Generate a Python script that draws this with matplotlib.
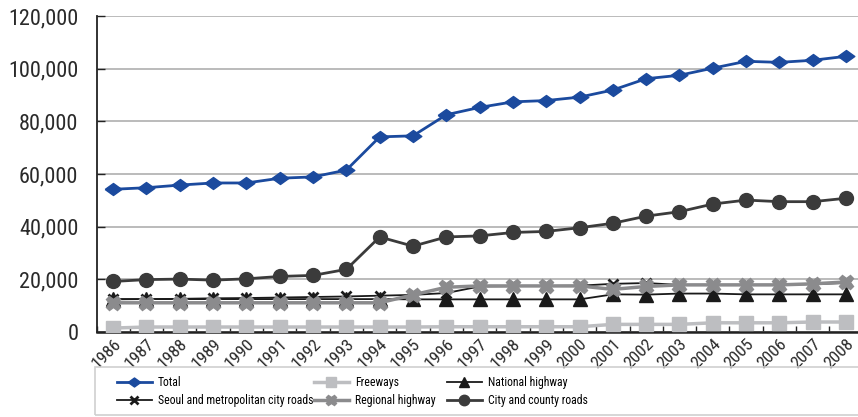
import numpy as np
import matplotlib.pyplot as plt
from matplotlib import font_manager
from matplotlib.patches import Rectangle

# prefer a narrow face when one is available
narrow = 'DejaVu Sans'
for name in ['Liberation Sans Narrow', 'DejaVu Sans Condensed', 'Roboto Condensed', 'Roboto']:
    try:
        font_manager.findfont(font_manager.FontProperties(family=name), fallback_to_default=False)
        narrow = name
        break
    except ValueError:
        continue
plt.rcParams['font.family'] = [narrow, 'DejaVu Sans']

years = [str(y) for y in range(1986, 2009)]

total = [54200, 54800, 55800, 56600, 56600, 58400, 58900, 61500, 74100, 74500, 82500, 85300,
         87400, 87900, 89200, 91900, 96200, 97500, 100200, 102800, 102400, 103200, 104700]
freeways = [1500, 1900, 1900, 1900, 1900, 1900, 1900, 1900, 1900, 1900, 2000, 2000,
            2000, 2000, 2000, 2900, 2900, 2900, 3500, 3500, 3500, 3800, 3800]
national = [12500, 12500, 12500, 12500, 12500, 12500, 12500, 12500, 12500, 12400, 12400, 12400,
            12400, 12400, 12400, 14300, 14200, 14600, 14600, 14300, 14300, 14300, 14300]
seoul = [12400, 12500, 12600, 12800, 12900, 13100, 13300, 13500, 13800, 14100, 14800, 17300,
         17400, 17500, 17600, 18300, 18600, 17900, 17900, 17900, 17900, 18200, 18600]
regional = [11100, 11100, 11100, 11100, 11100, 11100, 11100, 11100, 11100, 14100, 17000, 17500,
            17500, 17500, 17500, 16200, 17300, 17900, 17900, 17900, 17900, 18300, 19000]
city = [19200, 19900, 20100, 19700, 20200, 21100, 21500, 23800, 36100, 32600, 36100, 36500,
        37800, 38200, 39600, 41300, 44000, 45700, 48600, 50100, 49500, 49500, 50800]

x = np.arange(len(years))

fig = plt.figure(figsize=(8.58, 4.17), dpi=100)
ax = fig.add_axes([0.1125, 0.2038, 0.893, 0.7578])

# wide diamond for the total series
wide_diamond = [(-1, 0), (0, 0.72), (1, 0), (0, -0.72), (-1, 0)]

l_total, = ax.plot(x, total, color='#1b4a9e', lw=2, marker=wide_diamond, ms=12, zorder=7)
l_free, = ax.plot(x, freeways, color='#bdbec1', lw=2.5, marker='s', ms=10, zorder=3)
l_nat, = ax.plot(x, national, color='#1a1a1a', lw=1.3, marker='^', ms=9.5, zorder=4)
l_seoul, = ax.plot(x, seoul, color='#1a1a1a', lw=1.3, marker='x', ms=7.5, mew=2, zorder=5)
l_reg, = ax.plot(x, regional, color='#8b8b8d', lw=2.5, marker='X', ms=10.5, zorder=6)
l_city, = ax.plot(x, city, color='#3b3b3b', lw=2, marker='o', ms=10, zorder=6)

ax.set_xlim(-0.5, len(years) - 0.5)
ax.set_ylim(0, 120000)
ax.set_yticks(np.arange(0, 120001, 20000))
ax.set_yticklabels(['{:,}'.format(v) for v in range(0, 120001, 20000)], fontsize=16, color='#2a2a2a')
ax.yaxis.grid(True, color='#a8a8a8', lw=1.1)
ax.set_axisbelow(True)

ax.set_xticks(x)
ax.set_xticklabels(years, rotation=45, ha='right', rotation_mode='anchor', fontsize=12.5, color='#2a2a2a')
ax.set_xticks(np.arange(-0.5, len(years), 1), minor=True)
ax.tick_params(axis='x', which='major', length=0, pad=3)
ax.tick_params(axis='x', which='minor', length=4, direction='in', width=1, color='#222222')
ax.tick_params(axis='y', length=6, direction='in', width=1, color='#222222', pad=13)

for side in ['top', 'right']:
    ax.spines[side].set_visible(False)
ax.spines['left'].set_linewidth(1.3)
ax.spines['bottom'].set_linewidth(1.8)
ax.spines['left'].set_color('#222222')
ax.spines['bottom'].set_color('#222222')

# legend box and its three columns
fig.patches.append(Rectangle((0.111, 0.004), 0.95, 0.117, transform=fig.transFigure,
                             fill=False, edgecolor='#cfcfcf', lw=1.2))
columns = [([l_total, l_seoul], ['Total', 'Seoul and metropolitan city roads'], 0.1364),
           ([l_free, l_reg], ['Freeways', 'Regional highway'], 0.3660),
           ([l_nat, l_city], ['National highway', 'City and county roads'], 0.5210)]
for handles, labels, x0 in columns:
    fig.legend(handles, labels, loc='upper left', bbox_to_anchor=(x0, 0.099), frameon=False,
               fontsize=8.5, handlelength=2.95, handletextpad=0.5, labelspacing=0.45,
               markerscale=0.75, borderpad=0, borderaxespad=0)

plt.savefig('out.png', dpi=100)
